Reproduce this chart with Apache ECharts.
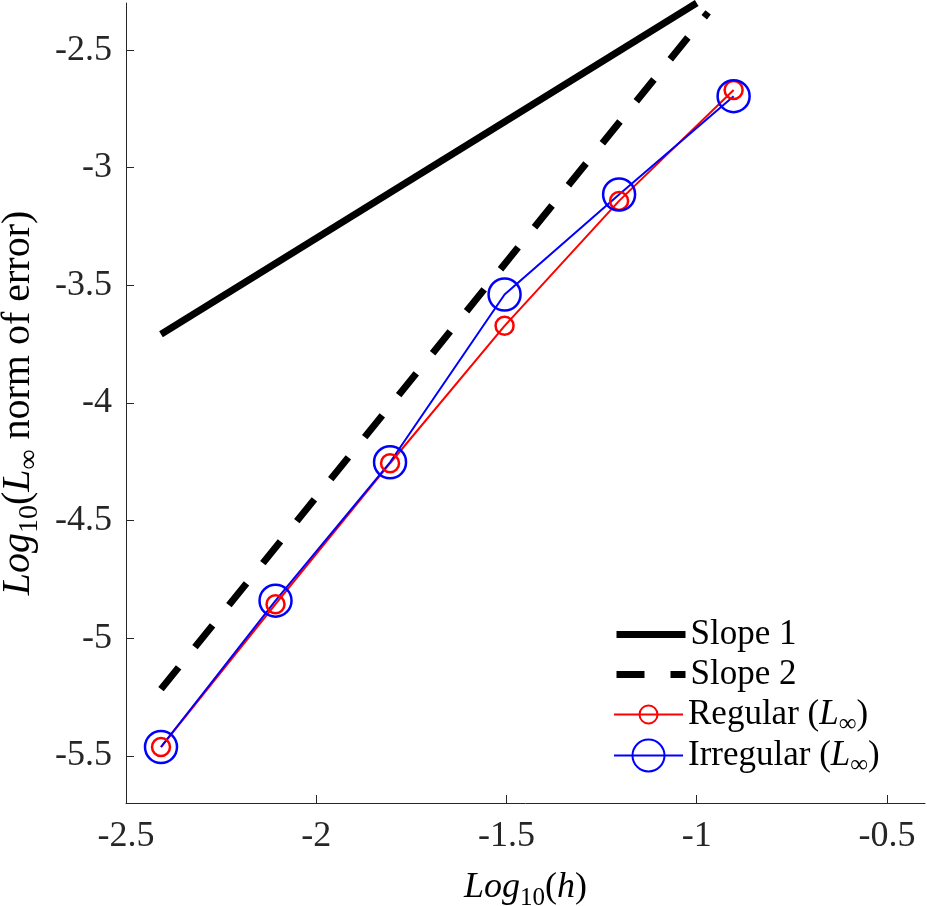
<!DOCTYPE html>
<html>
<head>
<meta charset="utf-8">
<script src="https://cdn.jsdelivr.net/npm/echarts@6/dist/echarts.min.js"></script>
<style>
  html, body { margin: 0; padding: 0; background: #fff; }
  #chart { width: 927px; height: 906px; }
</style>
</head>
<body>
<div id="chart"></div>
<script>
// log10(h) for the six grids
var logH = [-2.408, -2.107, -1.806, -1.505, -1.204, -0.903];
// log10 of the L-infinity error
var regular = [-5.462, -4.855, -4.256, -3.672, -3.141, -2.670];
var irregular = [-5.462, -4.840, -4.252, -3.539, -3.114, -2.696];
// reference slopes
var slope1X = [-2.408, -1.0];
var slope1Y = [-3.708, -2.3];
var slope2X = [-2.408, -0.97];
var slope2Y = [-5.216, -2.34];
// ticks
var xTicks = [-2.5, -2, -1.5, -1, -0.5];
var yTicks = [-5.5, -5, -4.5, -4, -3.5, -3, -2.5];

function pairs(xs, ys) {
    return xs.map(function (x, i) { return [x, ys[i]]; });
}

var serif = 'Liberation Serif';
var axisColor = '#262626';

// rich text pieces: i = italic, n = normal, s = subscript
function richSet(size, sub, lh) {
    return {
        i: { fontFamily: serif, fontStyle: 'italic', fontSize: size, lineHeight: lh, color: '#000' },
        n: { fontFamily: serif, fontSize: size, lineHeight: lh, color: '#000' },
        s: { fontFamily: serif, fontSize: sub, lineHeight: sub, verticalAlign: 'bottom', color: '#000' }
    };
}

var names = ['Slope 1', 'Slope 2', 'Regular (L∞)', 'Irregular (L∞)'];
var legendTops = [612, 652, 692, 733];
var legendHeights = [14, 14, 22.5, 40];

function legendLabel(name) {
    if (name.indexOf('(L∞)') < 0) return '{n|' + name + '}';
    return '{n|' + name.replace(' (L∞)', ' (') + '}{i|L}{s|∞}{n|)}';
}

var myChart = echarts.init(document.getElementById('chart'));

var option = {
    animation: false,
    backgroundColor: '#fff',
    grid: { left: 126, right: 2, top: 3, bottom: 103, outerBoundsMode: 'none' },
    legend: names.map(function (nm, k) {
        var slope = k < 2;
        return {
            data: [nm],
            left: 608,
            top: legendTops[k],
            itemWidth: 69,
            itemHeight: legendHeights[k],
            formatter: legendLabel,
            textStyle: { rich: richSet(35, 25, 44) },
            lineStyle: { width: slope ? 7 : 2, type: 'inherit' },
            itemStyle: slope ? { color: 'rgba(0,0,0,0)', borderWidth: 0 } : {},
            selectedMode: false
        };
    }),
    xAxis: {
        type: 'value',
        min: -2.5,
        max: -0.4,
        interval: 0.5,
        name: '{i|Log}{s|10}{n|(}{i|h}{n|)}',
        nameLocation: 'middle',
        nameGap: 62,
        nameTextStyle: { rich: richSet(36, 25, 46) },
        axisLine: { show: true, lineStyle: { color: axisColor, width: 1 } },
        axisTick: { show: true, inside: true, length: 8, customValues: xTicks, lineStyle: { color: axisColor } },
        axisLabel: {
            customValues: xTicks,
            margin: 16,
            fontFamily: serif,
            fontSize: 36,
            color: axisColor
        },
        splitLine: { show: false }
    },
    yAxis: {
        type: 'value',
        min: -5.7,
        max: -2.3,
        name: '{i|Log}{s|10}{n|(}{i|L}{s|∞}{n| norm of error)}',
        nameLocation: 'middle',
        nameGap: 72,
        nameTextStyle: { rich: richSet(40, 28, 52) },
        axisLine: { show: true, lineStyle: { color: axisColor, width: 1 } },
        axisTick: { show: true, inside: true, length: 8, customValues: yTicks, lineStyle: { color: axisColor } },
        axisLabel: {
            customValues: yTicks,
            margin: 14,
            fontFamily: serif,
            fontSize: 36,
            color: axisColor
        },
        splitLine: { show: false }
    },
    series: [
        {
            name: names[0],
            type: 'line',
            data: pairs(slope1X, slope1Y),
            symbol: 'none',
            color: '#000',
            lineStyle: { color: '#000', width: 7 }
        },
        {
            name: names[1],
            type: 'line',
            data: pairs(slope2X, slope2Y),
            symbol: 'none',
            color: '#000',
            lineStyle: { color: '#000', width: 7, type: [28, 26] }
        },
        {
            name: names[2],
            type: 'line',
            data: pairs(logH, regular),
            symbol: 'circle',
            symbolSize: 18,
            color: '#ff0000',
            lineStyle: { color: '#ff0000', width: 2 },
            itemStyle: { color: 'rgba(0,0,0,0)', borderColor: '#ff0000', borderWidth: 2.5 }
        },
        {
            name: names[3],
            type: 'line',
            data: pairs(logH, irregular),
            symbol: 'circle',
            symbolSize: 32,
            color: '#0000ff',
            lineStyle: { color: '#0000ff', width: 2 },
            itemStyle: { color: 'rgba(0,0,0,0)', borderColor: '#0000ff', borderWidth: 2.5 }
        }
    ]
};

myChart.setOption(option);
</script>
</body>
</html>
